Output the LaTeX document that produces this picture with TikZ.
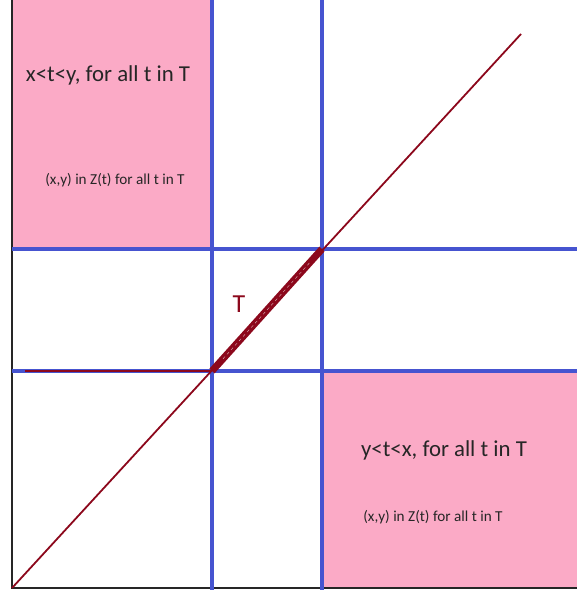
\documentclass[tikz,border=0pt]{standalone}
\usepackage{fontspec}
\setmainfont{Carlito}
\usetikzlibrary{calc}
\definecolor{pinkfill}{RGB}{251,170,198}
\definecolor{gridblue}{RGB}{70,84,208}
\definecolor{diagred}{RGB}{140,8,28}
\tikzset{
  gridline/.style={draw=gridblue,line width=3.5pt},
  axisline/.style={draw=black!85,line width=1.8pt},
  diagline/.style={draw=diagred,line width=1.8pt},
  bigtext/.style={font=\fontsize{22.8}{26}\selectfont,text=black!85,inner sep=0pt},
  smalltext/.style={font=\fontsize{15.2}{17}\selectfont,text=black!85,inner sep=0pt}
}
\begin{document}
\begin{tikzpicture}[x=1pt,y=-1pt]
\useasboundingbox (0,0) rectangle (577,595);
% pink regions
\fill[pinkfill] (12,0) rectangle (212,249);
\fill[pinkfill] (322,371) rectangle (577,588);
% axes
\draw[axisline] (12,0) -- (12,589);
\draw[axisline] (12,588) -- (577,588);
% grid lines
\draw[gridline] (212,0) -- (212,590);
\draw[gridline] (322,0) -- (322,590);
\draw[gridline] (12,249) -- (577,249);
\draw[gridline] (12,371) -- (577,371);
% diagonal
\coordinate (o) at (12,588);
\coordinate (a) at (212,371);
\coordinate (b) at (322,249);
\coordinate (e) at (521,34);
\coordinate (h) at (25,371);
\draw[diagline] (o) -- (e);
\draw[diagline,line width=1.4pt] (h) -- (a);
\draw[draw=diagred,line width=7pt] (a) -- (b);
\draw[draw=white!70!diagred,line width=0.4pt,dashed] ($(a)!0.1!(b)$) -- ($(a)!0.9!(b)$);
% labels
\node[text=diagred,font=\fontsize{26}{30}\selectfont,inner sep=0pt] (tl) at (239,304) {T};
\node[bigtext] (q1) at (108,75) {x<t<y, for all t in T};
\node[smalltext] (q1s) at (115,180) {(x,y) in Z(t) for all t in T};
\node[bigtext] (q3) at (444,450) {y<t<x, for all t in T};
\node[smalltext] (q3s) at (433,517) {(x,y) in Z(t) for all t in T};
\end{tikzpicture}
\end{document}
